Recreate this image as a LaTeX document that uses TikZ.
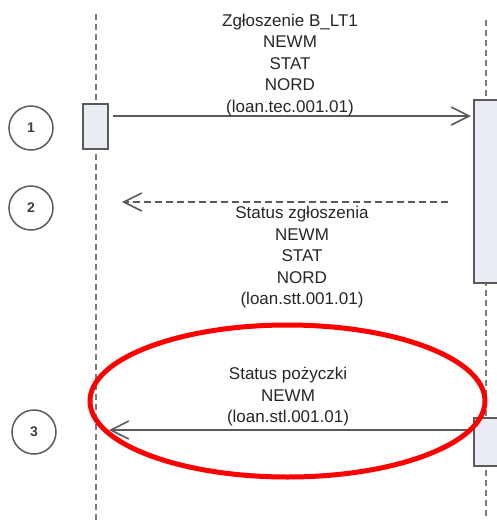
\documentclass[tikz,border=0pt]{standalone}
\usepackage{fontspec}
\setmainfont{Liberation Sans}
\usetikzlibrary{arrows.meta,shapes.geometric}
\definecolor{lineg}{HTML}{5A5A5A}
\definecolor{boxfill}{HTML}{E9ECF3}
\begin{document}
\begin{tikzpicture}[x=1pt,y=-1pt,
  lifeline/.style={draw=lineg!80,line width=1.3pt,dash pattern=on 6pt off 4pt},
  actbox/.style={draw=lineg,fill=boxfill,line width=1.4pt},
  msg/.style={draw=lineg,line width=1.6pt,-{Straight Barb[length=18pt,width=18pt,line width=1.6pt]}},
  reply/.style={msg,dash pattern=on 7pt off 4pt},
  lbl/.style={align=center,inner sep=0pt,font=\fontsize{17}{21.5}\selectfont,text=black!85},
  stepnum/.style={circle,draw=lineg,line width=1.5pt,minimum size=44pt,inner sep=0pt,font=\fontsize{14}{14}\selectfont\bfseries,text=black!75},
  hilite/.style={ellipse,draw=red,line width=5pt,inner sep=0pt}]
\useasboundingbox (0,0) rectangle (497,520);
% lifelines
\coordinate (lt) at (96,14); \coordinate (lb) at (96,520);
\coordinate (rt) at (486,20); \coordinate (rb) at (486,520);
\draw[lifeline] (lt) -- (lb);
\draw[lifeline] (rt) -- (rb);
% activation boxes
\draw[actbox] (83,104) rectangle (108,149);
\draw[actbox] (474,100) rectangle (505,283);
\draw[actbox] (474,418) rectangle (505,466);
% step circles
\node[stepnum] (s1) at (31,128) {1};
\node[stepnum] (s2) at (31,208) {2};
\node[stepnum] (s3) at (34,432) {3};
% messages
\coordinate (m1a) at (113,116); \coordinate (m1b) at (471,116);
\draw[msg] (m1a) -- (m1b);
\coordinate (m2a) at (448,202); \coordinate (m2b) at (122,202);
\draw[reply] (m2a) -- (m2b);
\coordinate (m3a) at (474,430); \coordinate (m3b) at (109,430);
\draw[msg] (m3a) -- (m3b);
% labels
\node[lbl] (t1) at (290,65) {Zgłoszenie B\_LT1\\NEWM\\STAT\\NORD\\(loan.tec.001.01)};
\node[lbl] (t2) at (302,257.5) {Status zgłoszenia\\NEWM\\STAT\\NORD\\(loan.stt.001.01)};
\node[lbl] (t3) at (288,397) {Status pożyczki\\NEWM\\(loan.stl.001.01)};
% highlight ellipse
\node[hilite,minimum width=395pt,minimum height=152pt] (hl) at (287.5,401) {};
\end{tikzpicture}
\end{document}
